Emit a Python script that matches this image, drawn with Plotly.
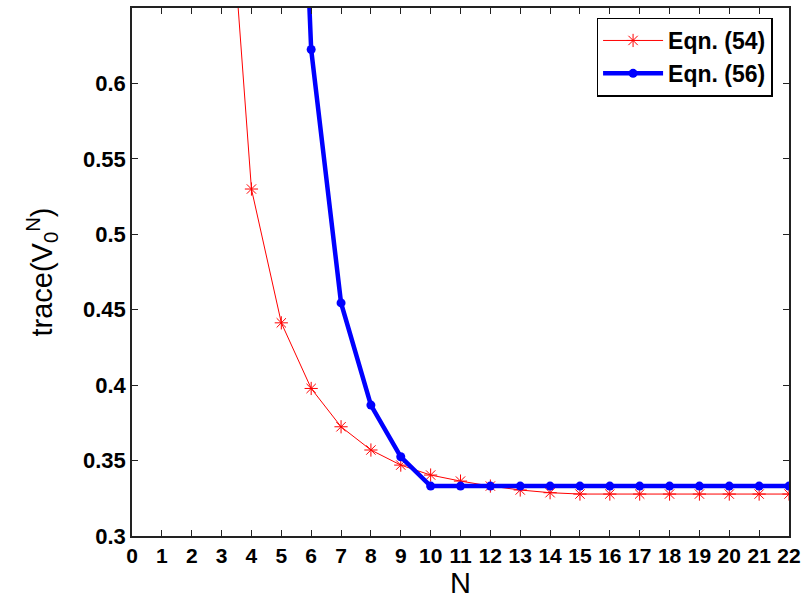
import plotly.graph_objects as go

# Eqn. (54) series (red)
n54 = list(range(3, 23))
v54 = [0.800, 0.530, 0.4413, 0.3978, 0.3724, 0.357, 0.347, 0.3404, 0.3364, 0.3331,
       0.3305, 0.3287, 0.3278, 0.3278, 0.3278, 0.3278, 0.3278, 0.3278, 0.3278, 0.3278]

# Eqn. (56) series (blue)
n56 = list(range(5, 23))
v56 = [1.10, 0.6225, 0.4545, 0.3868, 0.3525, 0.3331, 0.3331, 0.3331, 0.3331, 0.3331,
       0.3331, 0.3331, 0.3331, 0.3331, 0.3331, 0.3331, 0.3331, 0.3331]

x_ticks = list(range(0, 23))
y_ticks = [0.3, 0.35, 0.4, 0.45, 0.5, 0.55, 0.6]
y_tick_text = ["0.3", "0.35", "0.4", "0.45", "0.5", "0.55", "0.6"]

fig = go.Figure()
fig.add_trace(go.Scatter(
    x=n54, y=v54, mode="lines+markers", name="Eqn. (54)",
    line=dict(color="#ff0000", width=1),
    marker=dict(symbol="asterisk-open", size=11, color="#ff0000",
                line=dict(color="#ff0000", width=1)),
))
fig.add_trace(go.Scatter(
    x=n56, y=v56, mode="lines+markers", name="Eqn. (56)",
    line=dict(color="#0000ff", width=4.5),
    marker=dict(symbol="circle", size=9, color="#0000ff"),
))

axis_common = dict(
    showgrid=False, zeroline=False, showline=True, linecolor="#222222", linewidth=1.5,
    mirror="ticks", ticks="inside", ticklen=6, tickcolor="#222222", tickwidth=1,
    automargin=False,
)

fig.update_layout(
    width=803, height=601,
    margin=dict(l=132, r=14, t=8, b=65),
    paper_bgcolor="white", plot_bgcolor="white",
    font=dict(family="Liberation Sans, Arial", color="black"),
    xaxis=dict(range=[0, 22], tickmode="array", tickvals=x_ticks,
               ticktext=[str(v) for v in x_ticks],
               tickfont=dict(family="Liberation Sans, Arial", size=21, color="black", weight="bold"),
               title=dict(text="N", font=dict(size=29), standoff=0),
               **axis_common),
    yaxis=dict(range=[0.3, 0.65], tickmode="array", tickvals=y_ticks,
               ticktext=y_tick_text,
               tickfont=dict(family="Liberation Sans, Arial", size=22, color="black", weight="bold"),
               title=dict(text="trace(V<sub>0</sub><sup>N</sup>)", font=dict(size=29), standoff=22),
               **axis_common),
    legend=dict(x=0.975, y=0.982, xanchor="right", yanchor="top",
                bgcolor="white", bordercolor="black", borderwidth=1.5,
                font=dict(size=23, weight="bold", color="black"),
                itemwidth=60, tracegroupgap=0),
    showlegend=True,
)

fig.write_html(
    "out.html",
    config={"displayModeBar": False},
    post_script="document.body.style.margin='0';document.body.style.overflow='hidden';",
)
